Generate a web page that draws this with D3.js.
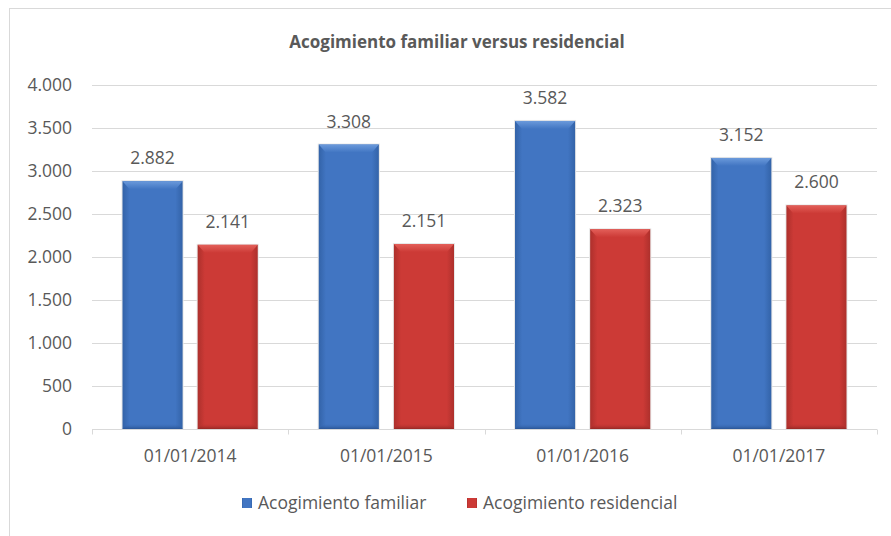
<!DOCTYPE html>
<html>
<head>
<meta charset="utf-8">
<script src="https://cdn.jsdelivr.net/npm/d3@7"></script>
<style>
    body { margin: 0; background: #fff; }
    text { font-family: "Open Sans", sans-serif; fill: #595959; }
</style>
</head>
<body>
<svg width="891" height="536"></svg>
<script>
const fechas      = ["01/01/2014", "01/01/2015", "01/01/2016", "01/01/2017"];
const series      = ["Acogimiento familiar", "Acogimiento residencial"];
const familiar    = [2882, 3308, 3582, 3152];
const residencial = [2141, 2151, 2323, 2600];
const yTicks      = [0, 500, 1000, 1500, 2000, 2500, 3000, 3500, 4000];

const rows = fechas.map((f, i) => ({ fecha: f, values: [familiar[i], residencial[i]] }));

const svg    = d3.select("svg");
const margin = { left: 92, right: 14, top: 85, bottom: 107 };
const width  = 891, height = 536;
const fs     = 17.5;

const fmt = d3.formatLocale({ decimal: ",", thousands: ".", grouping: [3], currency: ["", "€"] }).format(",d");

// chart frame
svg.append("rect")
    .attr("x", 9.5).attr("y", 8.5)
    .attr("width", 900).attr("height", 600)
    .attr("fill", "none").attr("stroke", "#d9d9d9");

const x = d3.scaleBand()
    .domain(fechas)
    .range([margin.left, width - margin.right])
    .paddingInner(0).paddingOuter(0);

const x1 = d3.scaleBand()
    .domain(series)
    .range([30.5, x.bandwidth() - 30.5])
    .paddingInner(0.2);

const y = d3.scaleLinear()
    .domain([0, 4000])
    .range([height - margin.bottom, margin.top]);

// gradients
const defs = svg.append("defs");
const palettes = [
    { id: "g0", dark: "#2a5596", mid: "#4175c2", light: "#6b9adb", edge: "#3363a8" },
    { id: "g1", dark: "#952824", mid: "#cc3a36", light: "#e35f59", edge: "#ad302c" },
];
palettes.forEach(p => {
    const h = defs.append("linearGradient").attr("id", p.id).attr("x1", 0).attr("x2", 1).attr("y1", 0).attr("y2", 0);
    h.append("stop").attr("offset", "0%").attr("stop-color", p.edge);
    h.append("stop").attr("offset", "12%").attr("stop-color", p.mid);
    h.append("stop").attr("offset", "88%").attr("stop-color", p.mid);
    h.append("stop").attr("offset", "100%").attr("stop-color", p.edge);
    const v = defs.append("linearGradient").attr("id", p.id + "v").attr("x1", 0).attr("x2", 0).attr("y1", 0).attr("y2", 1);
    v.append("stop").attr("offset", "0%").attr("stop-color", p.light);
    v.append("stop").attr("offset", "100%").attr("stop-color", p.mid);
    const b = defs.append("linearGradient").attr("id", p.id + "b").attr("x1", 0).attr("x2", 0).attr("y1", 0).attr("y2", 1);
    b.append("stop").attr("offset", "0%").attr("stop-color", p.mid).attr("stop-opacity", 0);
    b.append("stop").attr("offset", "100%").attr("stop-color", p.dark);
});

// gridlines
svg.append("g")
    .selectAll("line")
    .data(yTicks.slice(1))
    .enter().append("line")
        .attr("x1", margin.left).attr("x2", width - margin.right)
        .attr("y1", d => Math.round(y(d)) + 0.5).attr("y2", d => Math.round(y(d)) + 0.5)
        .attr("stroke", "#d9d9d9");

// y axis labels
svg.append("g")
    .selectAll("text")
    .data(yTicks)
    .enter().append("text")
        .attr("x", 72).attr("y", d => y(d))
        .attr("dy", "0.35em")
        .attr("text-anchor", "end")
        .attr("font-size", fs)
        .text(d => fmt(d));

// x axis
const xAxis = svg.append("g")
    .attr("transform", `translate(0,${Math.round(y(0)) + 0.5})`)
    .call(d3.axisBottom(x).tickSize(0).tickPadding(14).tickSizeOuter(0));
xAxis.select(".domain").attr("stroke", "#d9d9d9").attr("d", `M${margin.left},0H${width - margin.right}`);
xAxis.selectAll(".tick text")
    .attr("y", 32).attr("dy", null)
    .attr("font-size", fs)
    .attr("font-family", "Open Sans")
    .attr("fill", "#595959");
xAxis.selectAll(".sep")
    .data(d3.range(fechas.length + 1))
    .enter().append("line")
        .attr("class", "sep")
        .attr("x1", i => Math.round(margin.left + i * x.bandwidth()) + 0.5)
        .attr("x2", i => Math.round(margin.left + i * x.bandwidth()) + 0.5)
        .attr("y1", 0).attr("y2", 5)
        .attr("stroke", "#d9d9d9");

// bars
const group = svg.append("g")
    .selectAll("g")
    .data(rows)
    .enter().append("g")
        .attr("transform", d => `translate(${x(d.fecha)},0)`);

const bar = group.selectAll("g")
    .data(d => d.values.map((v, i) => ({ v, i })))
    .enter().append("g");

bar.append("rect")
    .attr("x", d => x1(series[d.i]) - 1)
    .attr("y", d => y(d.v) - 1)
    .attr("width", x1.bandwidth() + 2)
    .attr("height", d => y(0) - y(d.v) + 1)
    .attr("fill", "#e8e8e8");

bar.append("rect")
    .attr("x", d => x1(series[d.i]))
    .attr("y", d => y(d.v))
    .attr("width", x1.bandwidth())
    .attr("height", d => y(0) - y(d.v))
    .attr("fill", d => `url(#${palettes[d.i].id})`);

// top bevel
bar.append("path")
    .attr("d", d => {
        const x0 = x1(series[d.i]), w = x1.bandwidth(), t = y(d.v);
        return `M${x0},${t}H${x0 + w}L${x0 + w - 7},${t + 8}H${x0 + 7}Z`;
    })
    .attr("fill", d => `url(#${palettes[d.i].id}v)`);

// bottom shade
bar.append("path")
    .attr("d", d => {
        const x0 = x1(series[d.i]), w = x1.bandwidth(), b = y(0);
        return `M${x0},${b}H${x0 + w}L${x0 + w - 5},${b - 6}H${x0 + 5}Z`;
    })
    .attr("fill", d => `url(#${palettes[d.i].id}b)`);

bar.append("text")
    .attr("x", d => x1(series[d.i]) + x1.bandwidth() / 2)
    .attr("y", d => y(d.v) - 17)
    .attr("text-anchor", "middle")
    .attr("font-size", fs)
    .text(d => fmt(d.v));

// title
svg.append("text")
    .attr("x", 457).attr("y", 48)
    .attr("text-anchor", "middle")
    .attr("font-family", "Lato")
    .attr("font-weight", "bold")
    .attr("font-size", 17)
    .text("Acogimiento familiar versus residencial");

// legend
const legendX = [242, 467];
const legend = svg.append("g")
    .selectAll("g")
    .data(series)
    .enter().append("g")
        .attr("transform", (d, i) => `translate(${legendX[i]},498)`);

legend.append("rect")
    .attr("width", 10).attr("height", 10)
    .attr("fill", (d, i) => `url(#${palettes[i].id})`);

legend.append("text")
    .attr("x", 16).attr("y", 5)
    .attr("dy", "0.35em")
    .attr("font-size", fs)
    .text(d => d);
</script>
</body>
</html>
